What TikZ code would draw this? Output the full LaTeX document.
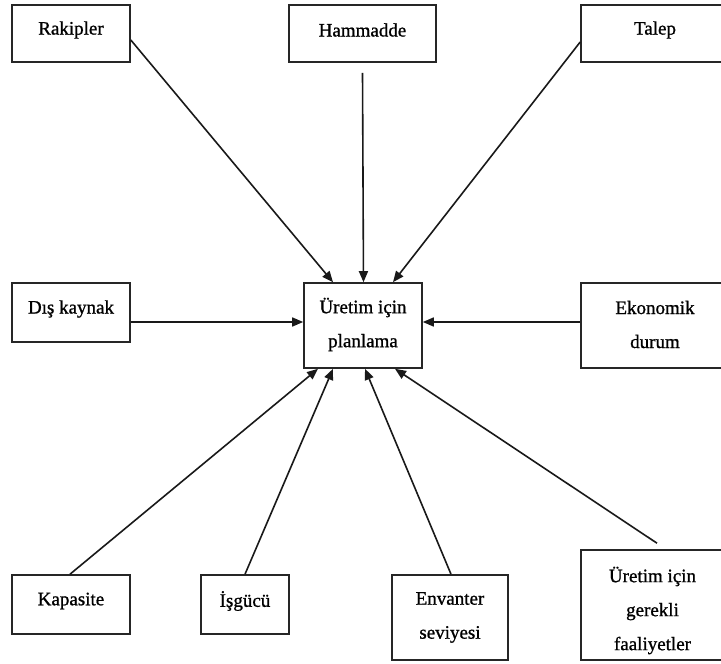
\documentclass[tikz,border=0pt]{standalone}
\usepackage{fontspec}
\setmainfont{Liberation Serif}[BoldFont=Liberation Serif,BoldFeatures={FakeBold=1}]
\usetikzlibrary{arrows.meta}
\begin{document}
\begin{tikzpicture}[x=1pt,y=-1pt,
  box/.style={draw=black!85,line width=1.6pt,rectangle,inner sep=0pt},
  txt/.style={align=center,inner sep=0pt,font=\fontsize{19}{34}\selectfont\bfseries},
  arr/.style={draw=black!90,line width=1.6pt,-{Triangle[length=11pt,width=9pt]}}]
\useasboundingbox (0,0) rectangle (721,664);
% boxes, given by their corners in picture units
\node[box,minimum width=118pt,minimum height=57pt] (rak) at (71,33.5) {};
\node[box,minimum width=147pt,minimum height=57pt] (ham) at (362.5,33.5) {};
\node[box,minimum width=143pt,minimum height=57pt] (tal) at (652.5,33.5) {};
\node[box,minimum width=118pt,minimum height=59pt] (dis) at (71,312.5) {};
\node[box,minimum width=118pt,minimum height=85pt] (plan) at (363,325.5) {};
\node[box,minimum width=143pt,minimum height=85pt] (eko) at (652.5,325.5) {};
\node[box,minimum width=118pt,minimum height=59pt] (kap) at (71,604.5) {};
\node[box,minimum width=88pt,minimum height=59pt] (isg) at (245,604.5) {};
\node[box,minimum width=116pt,minimum height=85pt] (env) at (450,617.5) {};
\node[box,minimum width=143pt,minimum height=110pt] (ger) at (652.5,605) {};
% labels
\node[txt] (trak) at (71,30) {Rakipler};
\node[txt] (tham) at (362.5,30) {Hammadde};
\node[txt] (ttal) at (655,30) {Talep};
\node[txt] (tdis) at (71,309) {Dış kaynak};
\node[txt] (tplan) at (363,324.5) {Üretim için\\planlama};
\node[txt] (teko) at (655,324.5) {Ekonomik\\durum};
\node[txt] (tkap) at (71,601) {Kapasite};
\node[txt] (tisg) at (245,601) {İşgücü};
\node[txt] (tenv) at (450,617.5) {Envanter\\seviyesi};
\node[txt] (tger) at (652.5,610.5) {Üretim için\\gerekli\\faaliyetler};
% connectors into the planning box
\draw[arr] ([yshift=-6.5pt]rak.east) -- ([xshift=-30pt]plan.north);
\draw[arr] ([yshift=-10pt]ham.south) -- ([xshift=0.5pt]plan.north);
\draw[arr] ([yshift=-8.5pt]tal.west) -- ([xshift=30pt]plan.north);
\draw[arr] ([yshift=-9.5pt]dis.east) -- ([yshift=3.5pt]plan.west);
\draw[arr] ([yshift=3.5pt]eko.west) -- ([yshift=3.5pt]plan.east);
\draw[arr] ([xshift=-1pt]kap.north) -- ([xshift=-45pt]plan.south);
\draw[arr] (isg.north) -- ([xshift=-30pt]plan.south);
\draw[arr] ([xshift=1pt]env.north) -- ([xshift=2pt]plan.south);
\draw[arr] ([xshift=4.5pt,yshift=6pt]ger.north) -- ([xshift=32pt]plan.south);
\end{tikzpicture}
\end{document}
